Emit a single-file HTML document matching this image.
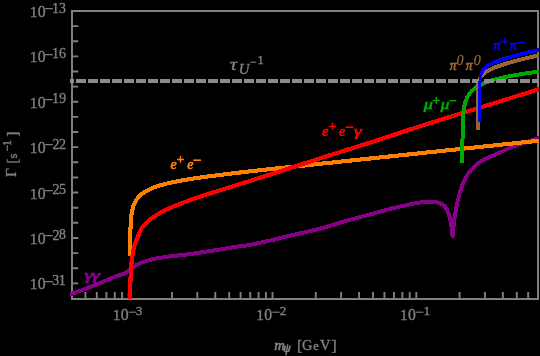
<!DOCTYPE html>
<html><head><meta charset="utf-8"><style>
html,body{margin:0;padding:0;background:#000;width:540px;height:356px;overflow:hidden}
svg{display:block;will-change:transform}
text{font-family:"Liberation Serif",serif}
</style></head><body>
<svg width="540" height="356" viewBox="0 0 540 356">
<rect width="540" height="356" fill="#000"/>
<rect x="72" y="11" width="466" height="288" fill="none" stroke="#808080" stroke-width="2"/>
<path d="M73,26.13 H78.2 M73,41.26 H78.2 M73,56.39 H78.2 M73,71.52 H78.2 M73,86.65 H78.2 M73,101.78 H78.2 M73,116.91 H78.2 M73,132.04 H78.2 M73,147.17 H78.2 M73,162.30 H78.2 M73,177.43 H78.2 M73,192.56 H78.2 M73,207.69 H78.2 M73,222.82 H78.2 M73,237.95 H78.2 M73,253.08 H78.2 M73,268.21 H78.2 M73,283.34 H78.2 M85.41,298 V292 M96.80,298 V292 M106.43,298 V292 M114.76,298 V292 M122.12,298 V292 M128.70,298 V292 M171.99,298 V292 M197.31,298 V292 M215.28,298 V292 M229.21,298 V292 M240.60,298 V292 M250.23,298 V292 M258.56,298 V292 M265.92,298 V292 M272.50,298 V292 M315.79,298 V292 M341.11,298 V292 M359.08,298 V292 M373.01,298 V292 M384.40,298 V292 M394.03,298 V292 M402.36,298 V292 M409.72,298 V292 M416.30,298 V292 M459.59,298 V292 M484.91,298 V292 M502.88,298 V292 M516.81,298 V292 M528.20,298 V292" stroke="#808080" stroke-width="1.9" fill="none"/>
<defs><clipPath id="c"><rect x="70" y="0" width="469" height="300"/></clipPath></defs>
<g clip-path="url(#c)">
<path d="M70.00,294.40 L70.93,294.07 L71.87,293.74 L72.80,293.41 L73.73,293.08 L74.67,292.75 L75.60,292.42 L76.53,292.09 L77.47,291.75 L78.40,291.42 L79.33,291.08 L80.27,290.74 L81.20,290.40 L82.14,290.05 L83.08,289.70 L84.03,289.35 L84.97,289.00 L85.91,288.64 L86.86,288.29 L87.80,287.93 L88.74,287.57 L89.68,287.20 L90.62,286.84 L91.56,286.47 L92.50,286.10 L93.44,285.73 L94.37,285.35 L95.31,284.98 L96.24,284.60 L97.18,284.21 L98.11,283.83 L99.04,283.44 L99.97,283.06 L100.91,282.67 L101.84,282.28 L102.77,281.89 L103.70,281.50 L104.65,281.10 L105.62,280.68 L106.60,280.25 L107.59,279.81 L108.58,279.38 L109.57,278.94 L110.54,278.52 L111.48,278.11 L112.40,277.72 L113.28,277.35 L114.11,277.01 L114.90,276.70 L115.39,276.52 L115.86,276.35 L116.30,276.20 L116.73,276.05 L117.15,275.92 L117.56,275.79 L117.96,275.66 L118.36,275.54 L118.76,275.41 L119.16,275.28 L119.58,275.15 L120.00,275.00 L120.45,274.85 L120.91,274.70 L121.37,274.55 L121.84,274.40 L122.30,274.25 L122.77,274.10 L123.23,273.94 L123.69,273.78 L124.14,273.60 L124.57,273.42 L124.99,273.22 L125.40,273.00 L125.76,272.78 L126.11,272.55 L126.44,272.31 L126.76,272.05 L127.08,271.79 L127.39,271.52 L127.70,271.25 L128.01,270.97 L128.32,270.70 L128.64,270.43 L128.96,270.16 L129.30,269.90 L129.67,269.63 L130.04,269.36 L130.41,269.09 L130.79,268.81 L131.18,268.54 L131.56,268.27 L131.95,268.00 L132.34,267.74 L132.73,267.47 L133.12,267.21 L133.51,266.95 L133.90,266.70 L134.27,266.45 L134.64,266.21 L135.00,265.97 L135.36,265.73 L135.71,265.49 L136.07,265.26 L136.44,265.03 L136.82,264.80 L137.21,264.57 L137.62,264.34 L138.05,264.12 L138.50,263.90 L139.15,263.60 L139.84,263.31 L140.57,263.01 L141.33,262.72 L142.12,262.44 L142.92,262.15 L143.74,261.88 L144.56,261.61 L145.39,261.34 L146.20,261.09 L147.01,260.84 L147.80,260.60 L148.56,260.37 L149.31,260.16 L150.05,259.95 L150.80,259.74 L151.54,259.54 L152.29,259.35 L153.04,259.17 L153.80,258.99 L154.58,258.81 L155.37,258.64 L156.17,258.47 L157.00,258.30 L157.99,258.11 L159.00,257.93 L160.02,257.76 L161.06,257.60 L162.11,257.45 L163.19,257.29 L164.27,257.15 L165.38,257.00 L166.51,256.85 L167.65,256.71 L168.82,256.55 L170.00,256.40 L171.50,256.21 L173.07,256.02 L174.68,255.83 L176.34,255.64 L178.02,255.45 L179.72,255.26 L181.43,255.07 L183.12,254.88 L184.80,254.69 L186.45,254.50 L188.05,254.30 L189.60,254.10 L190.91,253.92 L192.19,253.75 L193.45,253.57 L194.69,253.38 L195.91,253.20 L197.13,253.02 L198.34,252.83 L199.54,252.65 L200.75,252.46 L201.96,252.27 L203.17,252.09 L204.40,251.90 L205.64,251.71 L206.88,251.52 L208.12,251.34 L209.37,251.15 L210.61,250.96 L211.85,250.77 L213.09,250.58 L214.34,250.39 L215.58,250.19 L216.82,250.00 L218.06,249.80 L219.30,249.60 L220.53,249.40 L221.76,249.19 L222.98,248.98 L224.20,248.77 L225.42,248.56 L226.64,248.35 L227.86,248.13 L229.09,247.92 L230.33,247.71 L231.57,247.50 L232.83,247.30 L234.10,247.10 L235.49,246.89 L236.91,246.69 L238.35,246.50 L239.81,246.31 L241.29,246.12 L242.76,245.93 L244.22,245.74 L245.66,245.54 L247.08,245.35 L248.47,245.14 L249.81,244.92 L251.10,244.70 L252.11,244.51 L253.09,244.31 L254.05,244.11 L254.98,243.90 L255.90,243.69 L256.80,243.47 L257.70,243.26 L258.59,243.04 L259.48,242.83 L260.38,242.62 L261.28,242.41 L262.20,242.20 L263.12,242.00 L264.05,241.80 L264.98,241.60 L265.90,241.41 L266.83,241.22 L267.75,241.02 L268.68,240.83 L269.60,240.63 L270.53,240.43 L271.45,240.23 L272.38,240.02 L273.30,239.80 L274.23,239.57 L275.15,239.34 L276.08,239.10 L277.00,238.85 L277.92,238.61 L278.85,238.36 L279.77,238.10 L280.69,237.86 L281.62,237.61 L282.54,237.37 L283.47,237.13 L284.40,236.90 L285.32,236.68 L286.24,236.47 L287.15,236.26 L288.06,236.06 L288.97,235.86 L289.88,235.66 L290.80,235.46 L291.73,235.26 L292.67,235.05 L293.63,234.84 L294.60,234.62 L295.60,234.40 L296.81,234.12 L298.07,233.84 L299.36,233.54 L300.68,233.24 L302.01,232.93 L303.36,232.62 L304.70,232.30 L306.03,231.99 L307.35,231.69 L308.64,231.38 L309.89,231.09 L311.10,230.80 L312.09,230.57 L313.06,230.34 L314.01,230.12 L314.94,229.90 L315.86,229.68 L316.77,229.47 L317.67,229.25 L318.57,229.03 L319.47,228.81 L320.38,228.58 L321.28,228.34 L322.20,228.10 L323.13,227.85 L324.05,227.58 L324.98,227.32 L325.91,227.05 L326.83,226.77 L327.76,226.49 L328.68,226.21 L329.60,225.93 L330.53,225.65 L331.45,225.36 L332.38,225.08 L333.30,224.80 L334.23,224.52 L335.15,224.24 L336.07,223.95 L337.00,223.66 L337.92,223.37 L338.84,223.09 L339.77,222.80 L340.69,222.51 L341.62,222.23 L342.54,221.95 L343.47,221.67 L344.40,221.40 L345.32,221.13 L346.24,220.87 L347.15,220.61 L348.06,220.36 L348.97,220.11 L349.88,219.86 L350.80,219.61 L351.73,219.35 L352.67,219.10 L353.63,218.84 L354.60,218.57 L355.60,218.30 L356.81,217.97 L358.07,217.63 L359.36,217.28 L360.68,216.92 L362.01,216.56 L363.35,216.19 L364.70,215.83 L366.03,215.47 L367.35,215.11 L368.64,214.77 L369.89,214.43 L371.10,214.10 L372.09,213.83 L373.06,213.57 L374.00,213.31 L374.94,213.06 L375.86,212.81 L376.77,212.57 L377.67,212.32 L378.57,212.08 L379.47,211.84 L380.37,211.59 L381.28,211.35 L382.20,211.10 L383.12,210.85 L384.05,210.59 L384.97,210.34 L385.90,210.08 L386.82,209.83 L387.75,209.57 L388.67,209.32 L389.60,209.06 L390.52,208.82 L391.45,208.57 L392.37,208.33 L393.30,208.10 L394.22,207.87 L395.15,207.65 L396.07,207.44 L396.99,207.23 L397.92,207.02 L398.84,206.81 L399.77,206.61 L400.69,206.41 L401.62,206.21 L402.55,206.00 L403.47,205.80 L404.40,205.60 L405.34,205.39 L406.28,205.18 L407.23,204.97 L408.19,204.75 L409.14,204.54 L410.09,204.33 L411.04,204.12 L411.98,203.92 L412.91,203.72 L413.82,203.54 L414.72,203.36 L415.60,203.20 L416.34,203.07 L417.08,202.94 L417.80,202.83 L418.51,202.71 L419.22,202.60 L419.92,202.50 L420.61,202.40 L421.30,202.31 L421.98,202.23 L422.66,202.14 L423.33,202.07 L424.00,202.00 L424.59,201.94 L425.18,201.88 L425.75,201.81 L426.31,201.75 L426.88,201.70 L427.43,201.65 L427.99,201.61 L428.56,201.58 L429.13,201.56 L429.71,201.56 L430.30,201.57 L430.90,201.60 L431.63,201.65 L432.38,201.71 L433.17,201.79 L433.96,201.89 L434.77,201.99 L435.57,202.12 L436.37,202.27 L437.16,202.43 L437.92,202.61 L438.65,202.82 L439.35,203.05 L440.00,203.30 L440.51,203.52 L440.99,203.75 L441.47,204.00 L441.92,204.25 L442.37,204.52 L442.79,204.81 L443.21,205.11 L443.61,205.43 L444.00,205.76 L444.38,206.12 L444.74,206.50 L445.10,206.90 L445.50,207.40 L445.87,207.93 L446.23,208.50 L446.56,209.09 L446.88,209.71 L447.19,210.35 L447.48,211.01 L447.76,211.69 L448.03,212.38 L448.29,213.08 L448.55,213.79 L448.80,214.50 L449.09,215.35 L449.36,216.24 L449.61,217.15 L449.86,218.08 L450.09,219.03 L450.30,220.00 L450.51,220.97 L450.70,221.95 L450.89,222.93 L451.07,223.90 L451.24,224.86 L451.40,225.80 L451.54,226.70 L451.67,227.59 L451.79,228.49 L451.89,229.38 L451.99,230.27 L452.08,231.16 L452.16,232.05 L452.25,232.94 L452.33,233.83 L452.41,234.72 L452.50,235.61 L452.60,236.50 L452.73,235.16 L452.86,233.82 L452.98,232.47 L453.10,231.11 L453.23,229.76 L453.35,228.41 L453.48,227.07 L453.61,225.73 L453.74,224.40 L453.89,223.08 L454.04,221.78 L454.20,220.50 L454.36,219.32 L454.52,218.15 L454.69,216.97 L454.87,215.80 L455.05,214.64 L455.24,213.49 L455.43,212.36 L455.62,211.24 L455.81,210.14 L456.01,209.07 L456.20,208.02 L456.40,207.00 L456.56,206.20 L456.71,205.43 L456.87,204.69 L457.02,203.96 L457.18,203.25 L457.34,202.54 L457.50,201.84 L457.66,201.13 L457.84,200.42 L458.02,199.70 L458.20,198.96 L458.40,198.20 L458.63,197.31 L458.87,196.40 L459.12,195.47 L459.37,194.53 L459.63,193.58 L459.90,192.63 L460.17,191.67 L460.46,190.72 L460.76,189.77 L461.06,188.83 L461.37,187.91 L461.70,187.00 L462.02,186.13 L462.35,185.26 L462.68,184.39 L463.02,183.53 L463.37,182.68 L463.73,181.83 L464.10,180.98 L464.49,180.15 L464.89,179.32 L465.31,178.51 L465.74,177.70 L466.20,176.90 L466.68,176.10 L467.19,175.30 L467.72,174.50 L468.27,173.71 L468.83,172.93 L469.41,172.16 L469.99,171.40 L470.59,170.66 L471.19,169.93 L471.79,169.23 L472.40,168.55 L473.00,167.90 L473.53,167.35 L474.06,166.81 L474.60,166.29 L475.14,165.79 L475.68,165.30 L476.23,164.83 L476.78,164.37 L477.35,163.92 L477.92,163.48 L478.50,163.04 L479.09,162.62 L479.70,162.20 L480.34,161.78 L480.98,161.38 L481.64,161.00 L482.30,160.62 L482.98,160.26 L483.66,159.91 L484.35,159.56 L485.06,159.22 L485.78,158.87 L486.50,158.52 L487.25,158.17 L488.00,157.80 L488.91,157.36 L489.85,156.93 L490.81,156.49 L491.79,156.06 L492.79,155.62 L493.80,155.18 L494.82,154.74 L495.84,154.30 L496.86,153.85 L497.88,153.41 L498.90,152.96 L499.90,152.50 L500.92,152.03 L501.93,151.54 L502.94,151.04 L503.95,150.54 L504.96,150.03 L505.97,149.53 L506.99,149.03 L508.01,148.53 L509.04,148.05 L510.08,147.58 L511.13,147.13 L512.20,146.70 L513.32,146.28 L514.46,145.88 L515.62,145.49 L516.78,145.13 L517.95,144.77 L519.13,144.42 L520.32,144.08 L521.50,143.74 L522.68,143.39 L523.86,143.04 L525.04,142.68 L526.20,142.30 L527.36,141.91 L528.51,141.52 L529.66,141.13 L530.81,140.73 L531.96,140.33 L533.11,139.93 L534.26,139.52 L535.41,139.12 L536.55,138.71 L537.70,138.30 L538.85,137.90 L540.00,137.50" fill="none" stroke="#880088" stroke-width="4.0" stroke-linejoin="round" stroke-linecap="butt" shape-rendering="crispEdges"/>
<path d="M130.18,256.10 L130.18,255.90 L130.18,255.45 L130.18,255.00 L130.18,254.55 L130.18,254.10 L130.18,253.65 L130.18,253.20 L130.18,252.75 L130.19,252.31 L130.19,251.86 L130.19,251.41 L130.19,250.96 L130.19,250.51 L130.19,250.06 L130.20,249.61 L130.20,249.16 L130.20,248.71 L130.20,248.26 L130.20,247.82 L130.21,247.37 L130.21,246.92 L130.21,246.47 L130.21,246.02 L130.22,245.57 L130.22,245.12 L130.22,244.67 L130.22,244.22 L130.23,243.78 L130.23,243.33 L130.23,242.88 L130.24,242.43 L130.24,241.98 L130.25,241.53 L130.25,241.08 L130.25,240.64 L130.26,240.19 L130.26,239.74 L130.27,239.29 L130.27,238.84 L130.28,238.39 L130.28,237.94 L130.29,237.50 L130.30,237.05 L130.30,236.60 L130.31,236.15 L130.32,235.70 L130.32,235.25 L130.33,234.81 L130.34,234.36 L130.35,233.91 L130.36,233.46 L130.37,233.01 L130.38,232.57 L130.39,232.12 L130.40,231.67 L130.41,231.22 L130.42,230.78 L130.43,230.33 L130.45,229.88 L130.46,229.43 L130.47,228.99 L130.49,228.54 L130.50,228.09 L130.52,227.64 L130.54,227.20 L130.56,226.75 L130.57,226.30 L130.59,225.86 L130.61,225.41 L130.64,224.96 L130.66,224.52 L130.68,224.07 L130.71,223.63 L130.73,223.18 L130.76,222.73 L130.79,222.29 L130.81,221.84 L130.85,221.40 L130.88,220.95 L130.91,220.51 L130.95,220.06 L130.98,219.62 L131.02,219.18 L131.06,218.73 L131.10,218.29 L131.15,217.84 L131.19,217.40 L131.24,216.96 L131.29,216.52 L131.34,216.07 L131.40,215.63 L131.45,215.19 L131.51,214.75 L131.58,214.31 L131.64,213.87 L131.71,213.43 L131.78,212.99 L131.86,212.55 L131.93,212.11 L132.02,211.67 L132.10,211.23 L132.19,210.79 L132.28,210.36 L132.38,209.92 L132.48,209.48 L132.59,209.05 L132.70,208.61 L132.82,208.18 L132.94,207.75 L133.07,207.31 L133.20,206.88 L133.34,206.45 L133.48,206.02 L133.63,205.59 L133.79,205.16 L133.95,204.73 L134.12,204.31 L134.30,203.88 L134.49,203.46 L134.69,203.03 L134.89,202.61 L135.10,202.19 L135.32,201.77 L135.55,201.35 L135.79,200.93 L136.04,200.51 L136.31,200.10 L136.58,199.68 L136.86,199.27 L137.16,198.86 L137.47,198.45 L137.79,198.04 L138.12,197.63 L138.47,197.23 L138.83,196.82 L139.21,196.42 L139.60,196.02 L140.00,195.62 L140.43,195.23 L140.87,194.83 L141.33,194.44 L141.80,194.05 L142.29,193.66 L142.81,193.28 L143.34,192.89 L143.89,192.51 L144.46,192.13 L145.05,191.76 L145.67,191.38 L146.31,191.01 L146.97,190.64 L147.65,190.28 L148.36,189.91 L149.09,189.55 L149.84,189.19 L150.63,188.84 L151.43,188.48 L152.27,188.13 L153.13,187.79 L154.02,187.44 L154.94,187.10 L155.88,186.76 L156.86,186.42 L157.86,186.09 L158.90,185.76 L159.96,185.43 L161.06,185.10 L162.18,184.78 L163.34,184.46 L164.53,184.14 L165.75,183.83 L167.00,183.52 L168.28,183.21 L169.60,182.90 L170.95,182.59 L172.33,182.29 L173.74,181.99 L175.19,181.69 L176.66,181.40 L178.17,181.11 L179.72,180.81 L181.29,180.52 L182.90,180.24 L184.53,179.95 L186.20,179.67 L187.90,179.38 L189.63,179.10 L191.40,178.82 L193.19,178.55 L195.01,178.27 L196.86,177.99 L198.74,177.72 L200.65,177.44 L202.59,177.17 L204.55,176.90 L206.55,176.63 L208.57,176.36 L210.61,176.08 L212.69,175.81 L214.78,175.54 L216.91,175.28 L219.05,175.01 L221.22,174.74 L223.41,174.47 L225.63,174.20 L227.87,173.93 L230.12,173.66 L232.40,173.39 L234.70,173.12 L237.02,172.85 L239.36,172.58 L241.72,172.31 L244.09,172.04 L246.49,171.77 L248.90,171.49 L251.32,171.22 L253.76,170.95 L256.22,170.68 L258.69,170.40 L261.18,170.13 L263.68,169.85 L266.19,169.58 L268.72,169.30 L271.26,169.02 L273.81,168.75 L276.37,168.47 L278.94,168.19 L281.53,167.91 L284.12,167.63 L286.73,167.35 L289.34,167.07 L291.97,166.79 L294.60,166.51 L297.24,166.22 L299.89,165.94 L302.55,165.66 L305.21,165.37 L307.89,165.09 L310.57,164.80 L313.25,164.52 L315.95,164.23 L318.64,163.94 L321.35,163.66 L324.06,163.37 L326.78,163.08 L329.50,162.79 L332.22,162.50 L334.96,162.21 L337.69,161.92 L340.43,161.63 L343.18,161.34 L345.93,161.05 L348.68,160.76 L351.44,160.47 L354.20,160.18 L356.96,159.89 L359.73,159.59 L362.50,159.30 L365.27,159.01 L368.05,158.72 L370.83,158.42 L373.61,158.13 L376.39,157.83 L379.18,157.54 L381.97,157.25 L384.76,156.95 L387.55,156.66 L390.35,156.36 L393.15,156.07 L395.95,155.77 L398.75,155.48 L401.55,155.18 L404.36,154.88 L407.16,154.59 L409.97,154.29 L412.78,154.00 L415.59,153.70 L418.40,153.40 L421.21,153.11 L424.03,152.81 L426.84,152.51 L429.66,152.22 L432.48,151.92 L435.29,151.62 L438.11,151.32 L440.93,151.03 L443.76,150.73 L446.58,150.43 L449.40,150.13 L452.22,149.84 L455.05,149.54 L457.87,149.24 L460.70,148.94 L463.53,148.64 L466.35,148.35 L469.18,148.05 L472.01,147.75 L474.84,147.45 L477.67,147.15 L480.50,146.85 L483.33,146.56 L486.16,146.26 L488.99,145.96 L491.82,145.66 L494.65,145.36 L497.48,145.06 L500.32,144.77 L503.15,144.47 L505.98,144.17 L508.81,143.87 L511.65,143.57 L514.48,143.27 L517.32,142.97 L520.15,142.67 L522.99,142.37 L525.82,142.08 L528.66,141.78 L531.49,141.48 L534.33,141.18 L537.16,140.88 L540.00,140.58" fill="none" stroke="#ff8000" stroke-width="4.1" stroke-linejoin="round" stroke-linecap="butt" shape-rendering="crispEdges"/>
<path d="M129.90,298.60 L129.94,297.13 L129.99,295.65 L130.03,294.17 L130.07,292.69 L130.11,291.21 L130.16,289.73 L130.20,288.25 L130.24,286.78 L130.29,285.32 L130.34,283.87 L130.39,282.43 L130.45,281.00 L130.51,279.66 L130.56,278.29 L130.62,276.92 L130.68,275.55 L130.74,274.19 L130.80,272.84 L130.87,271.51 L130.94,270.22 L131.01,268.96 L131.08,267.75 L131.17,266.59 L131.25,265.50 L131.31,264.78 L131.37,264.11 L131.43,263.46 L131.49,262.85 L131.55,262.25 L131.61,261.66 L131.68,261.08 L131.75,260.49 L131.83,259.90 L131.91,259.29 L132.00,258.66 L132.10,258.00 L132.22,257.17 L132.35,256.32 L132.49,255.44 L132.63,254.55 L132.78,253.65 L132.94,252.73 L133.10,251.82 L133.28,250.90 L133.47,249.98 L133.67,249.08 L133.88,248.18 L134.10,247.30 L134.34,246.44 L134.58,245.58 L134.84,244.73 L135.12,243.88 L135.40,243.04 L135.69,242.20 L135.99,241.36 L136.30,240.52 L136.61,239.69 L136.94,238.86 L137.27,238.03 L137.60,237.20 L137.93,236.36 L138.26,235.53 L138.59,234.68 L138.92,233.84 L139.26,233.00 L139.61,232.17 L139.97,231.34 L140.36,230.52 L140.77,229.72 L141.21,228.93 L141.69,228.15 L142.20,227.40 L142.79,226.62 L143.42,225.85 L144.09,225.10 L144.80,224.36 L145.53,223.64 L146.28,222.93 L147.06,222.23 L147.85,221.55 L148.65,220.87 L149.47,220.20 L150.28,219.55 L151.10,218.90 L151.96,218.24 L152.83,217.58 L153.73,216.94 L154.64,216.30 L155.57,215.68 L156.50,215.07 L157.44,214.47 L158.39,213.89 L159.35,213.32 L160.30,212.76 L161.25,212.22 L162.20,211.70 L163.11,211.22 L164.02,210.75 L164.94,210.31 L165.86,209.88 L166.79,209.46 L167.72,209.05 L168.65,208.66 L169.58,208.26 L170.51,207.87 L171.44,207.48 L172.37,207.09 L173.30,206.70 L174.22,206.31 L175.12,205.93 L176.02,205.55 L176.92,205.17 L177.82,204.80 L178.72,204.43 L179.63,204.06 L180.55,203.70 L181.48,203.33 L182.43,202.95 L183.40,202.58 L184.40,202.20 L185.57,201.76 L186.72,201.33 L187.86,200.91 L189.01,200.49 L190.18,200.07 L191.38,199.64 L192.63,199.20 L193.94,198.75 L195.31,198.28 L196.77,197.78 L198.33,197.26 L200.00,196.70 L203.63,195.50 L207.74,194.18 L212.25,192.75 L217.11,191.22 L222.23,189.62 L227.56,187.96 L233.03,186.26 L238.56,184.54 L244.09,182.81 L249.55,181.10 L254.88,179.43 L260.00,177.80 L265.00,176.20 L270.00,174.59 L275.00,172.97 L280.00,171.35 L285.00,169.73 L290.00,168.11 L295.00,166.48 L300.00,164.86 L305.00,163.23 L310.00,161.62 L315.00,160.00 L320.00,158.40 L325.04,156.79 L330.14,155.17 L335.28,153.55 L340.45,151.92 L345.61,150.29 L350.76,148.67 L355.86,147.06 L360.90,145.48 L365.86,143.91 L370.71,142.37 L375.43,140.87 L380.00,139.40 L383.60,138.24 L387.06,137.11 L390.41,136.01 L393.68,134.93 L396.90,133.86 L400.08,132.81 L403.26,131.76 L406.46,130.70 L409.71,129.63 L413.03,128.55 L416.45,127.44 L420.00,126.30 L424.33,124.92 L428.77,123.52 L433.29,122.10 L437.89,120.67 L442.55,119.22 L447.27,117.76 L452.04,116.28 L456.85,114.80 L461.67,113.31 L466.52,111.81 L471.36,110.31 L476.20,108.80 L481.38,107.19 L486.60,105.56 L491.87,103.92 L497.17,102.26 L502.50,100.60 L507.85,98.93 L513.21,97.26 L518.58,95.58 L523.96,93.91 L529.32,92.23 L534.67,90.56 L540.00,88.90" fill="none" stroke="#ff0000" stroke-width="4.2" stroke-linejoin="round" stroke-linecap="butt" shape-rendering="crispEdges"/>
<path d="M462.43,163.00 L462.43,162.96 L462.43,162.60 L462.43,162.25 L462.43,161.89 L462.44,161.54 L462.44,161.18 L462.44,160.83 L462.44,160.47 L462.44,160.11 L462.44,159.76 L462.44,159.40 L462.44,159.05 L462.44,158.69 L462.44,158.33 L462.44,157.98 L462.44,157.62 L462.44,157.27 L462.44,156.91 L462.44,156.56 L462.44,156.20 L462.44,155.84 L462.44,155.49 L462.44,155.13 L462.44,154.78 L462.44,154.42 L462.44,154.06 L462.44,153.71 L462.44,153.35 L462.44,153.00 L462.45,152.64 L462.45,152.29 L462.45,151.93 L462.45,151.57 L462.45,151.22 L462.45,150.86 L462.45,150.51 L462.45,150.15 L462.45,149.79 L462.45,149.44 L462.45,149.08 L462.45,148.73 L462.45,148.37 L462.46,148.02 L462.46,147.66 L462.46,147.30 L462.46,146.95 L462.46,146.59 L462.46,146.24 L462.46,145.88 L462.46,145.53 L462.46,145.17 L462.47,144.81 L462.47,144.46 L462.47,144.10 L462.47,143.75 L462.47,143.39 L462.47,143.04 L462.48,142.68 L462.48,142.32 L462.48,141.97 L462.48,141.61 L462.48,141.26 L462.48,140.90 L462.49,140.55 L462.49,140.19 L462.49,139.84 L462.49,139.48 L462.50,139.12 L462.50,138.77 L462.50,138.41 L462.50,138.06 L462.51,137.70 L462.51,137.35 L462.51,136.99 L462.52,136.64 L462.52,136.28 L462.52,135.92 L462.53,135.57 L462.53,135.21 L462.53,134.86 L462.54,134.50 L462.54,134.15 L462.54,133.79 L462.55,133.44 L462.55,133.08 L462.56,132.73 L462.56,132.37 L462.57,132.02 L462.57,131.66 L462.58,131.31 L462.58,130.95 L462.59,130.60 L462.60,130.24 L462.60,129.89 L462.61,129.53 L462.61,129.18 L462.62,128.82 L462.63,128.47 L462.64,128.11 L462.64,127.76 L462.65,127.40 L462.66,127.05 L462.67,126.69 L462.68,126.34 L462.69,125.98 L462.70,125.63 L462.71,125.27 L462.72,124.92 L462.73,124.56 L462.74,124.21 L462.75,123.85 L462.76,123.50 L462.77,123.15 L462.78,122.79 L462.80,122.44 L462.81,122.08 L462.83,121.73 L462.84,121.38 L462.85,121.02 L462.87,120.67 L462.89,120.31 L462.90,119.96 L462.92,119.61 L462.94,119.25 L462.96,118.90 L462.98,118.55 L463.00,118.19 L463.02,117.84 L463.04,117.49 L463.06,117.13 L463.08,116.78 L463.11,116.43 L463.13,116.08 L463.16,115.72 L463.19,115.37 L463.21,115.02 L463.24,114.67 L463.27,114.31 L463.30,113.96 L463.34,113.61 L463.37,113.26 L463.40,112.91 L463.44,112.56 L463.48,112.21 L463.51,111.85 L463.55,111.50 L463.59,111.15 L463.64,110.80 L463.68,110.45 L463.73,110.10 L463.77,109.75 L463.82,109.40 L463.87,109.05 L463.93,108.71 L463.98,108.36 L464.04,108.01 L464.09,107.66 L464.15,107.31 L464.22,106.96 L464.28,106.62 L464.35,106.27 L464.42,105.92 L464.49,105.58 L464.57,105.23 L464.64,104.88 L464.72,104.54 L464.81,104.19 L464.89,103.85 L464.98,103.51 L465.07,103.16 L465.17,102.82 L465.26,102.47 L465.37,102.13 L465.47,101.79 L465.58,101.45 L465.69,101.11 L465.81,100.77 L465.93,100.43 L466.06,100.09 L466.19,99.75 L466.32,99.41 L466.46,99.07 L466.60,98.73 L466.75,98.40 L466.90,98.06 L467.06,97.72 L467.23,97.39 L467.40,97.06 L467.57,96.72 L467.75,96.39 L467.94,96.06 L468.13,95.73 L468.33,95.40 L468.54,95.07 L468.75,94.74 L468.98,94.41 L469.20,94.08 L469.44,93.76 L469.68,93.43 L469.93,93.11 L470.19,92.79 L470.46,92.46 L470.74,92.14 L471.02,91.82 L471.32,91.51 L471.62,91.19 L471.93,90.87 L472.26,90.56 L472.59,90.24 L472.94,89.93 L473.29,89.62 L473.66,89.31 L474.03,89.00 L474.42,88.69 L474.82,88.38 L475.23,88.08 L475.66,87.78 L476.09,87.47 L476.54,87.17 L477.00,86.87 L477.48,86.58 L477.97,86.28 L478.47,85.99 L478.99,85.69 L479.52,85.40 L480.07,85.11 L480.63,84.82 L481.21,84.54 L481.81,84.25 L482.42,83.97 L483.04,83.69 L483.68,83.41 L484.34,83.13 L485.02,82.85 L485.71,82.58 L486.42,82.31 L487.15,82.04 L487.89,81.77 L488.66,81.50 L489.44,81.23 L490.24,80.97 L491.06,80.71 L491.90,80.45 L492.76,80.19 L493.63,79.93 L494.53,79.68 L495.44,79.42 L496.38,79.17 L497.33,78.92 L498.31,78.67 L499.30,78.42 L500.32,78.18 L501.35,77.93 L502.41,77.69 L503.49,77.45 L504.58,77.21 L505.70,76.97 L506.83,76.74 L507.99,76.50 L509.17,76.27 L510.37,76.04 L511.58,75.80 L512.82,75.57 L514.08,75.35 L515.36,75.12 L516.65,74.89 L517.97,74.67 L519.31,74.44 L520.67,74.22 L522.04,74.00 L523.44,73.77 L524.85,73.55 L526.29,73.33 L527.74,73.12 L529.21,72.90 L530.70,72.68 L532.20,72.46 L533.73,72.24 L535.27,72.03 L536.83,71.81 L538.41,71.60 L540.00,71.38" fill="none" stroke="#00a800" stroke-width="4.0" stroke-linejoin="round" stroke-linecap="butt" shape-rendering="crispEdges"/>
<path d="M477.69,129.80 L477.69,129.80 L477.69,129.64 L477.69,129.48 L477.69,129.32 L477.69,129.16 L477.69,129.00 L477.69,128.84 L477.69,128.68 L477.69,128.51 L477.69,128.35 L477.69,128.19 L477.69,128.03 L477.69,127.87 L477.69,127.71 L477.69,127.55 L477.69,127.39 L477.69,127.23 L477.69,127.07 L477.69,126.91 L477.69,126.75 L477.69,126.59 L477.69,126.43 L477.69,126.27 L477.69,126.11 L477.69,125.95 L477.69,125.79 L477.69,125.63 L477.69,125.47 L477.69,125.31 L477.69,125.15 L477.69,124.98 L477.69,124.82 L477.69,124.66 L477.69,124.50 L477.69,124.34 L477.69,124.18 L477.69,124.02 L477.69,123.86 L477.69,123.70 L477.69,123.54 L477.69,123.38 L477.69,123.22 L477.69,123.06 L477.69,122.90 L477.69,122.74 L477.69,122.58 L477.69,122.42 L477.69,122.26 L477.69,122.10 L477.69,121.94 L477.69,121.78 L477.69,121.62 L477.69,121.45 L477.69,121.29 L477.69,121.13 L477.69,120.97 L477.69,120.81 L477.69,120.65 L477.69,120.49 L477.69,120.33 L477.69,120.17 L477.69,120.01 L477.69,119.85 L477.69,119.69 L477.69,119.53 L477.69,119.37 L477.69,119.21 L477.69,119.05 L477.69,118.89 L477.69,118.73 L477.69,118.57 L477.69,118.41 L477.69,118.25 L477.69,118.09 L477.69,117.93 L477.69,117.76 L477.69,117.60 L477.69,117.44 L477.69,117.28 L477.69,117.12 L477.69,116.96 L477.69,116.80 L477.69,116.64 L477.69,116.48 L477.69,116.32 L477.69,116.16 L477.69,116.00 L477.69,115.84 L477.69,115.68 L477.69,115.52 L477.69,115.36 L477.69,115.20 L477.69,115.04 L477.69,114.88 L477.69,114.72 L477.69,114.56 L477.69,114.40 L477.69,114.23 L477.69,114.07 L477.69,113.91 L477.69,113.75 L477.69,113.59 L477.69,113.43 L477.69,113.27 L477.69,113.11 L477.69,112.95 L477.69,112.79 L477.69,112.63 L477.69,112.47 L477.69,112.31 L477.69,112.15 L477.69,111.99 L477.69,111.83 L477.69,111.67 L477.69,111.51 L477.69,111.35 L477.69,111.19 L477.69,111.03 L477.69,110.87 L477.69,110.70 L477.69,110.54 L477.69,110.38 L477.69,110.22 L477.69,110.06 L477.69,109.90 L477.69,109.74 L477.69,109.58 L477.69,109.42 L477.69,109.26 L477.69,109.10 L477.69,108.94 L477.69,108.78 L477.69,108.62 L477.69,108.46 L477.69,108.30 L477.69,108.14 L477.69,107.98 L477.69,107.82 L477.69,107.66 L477.69,107.50 L477.69,107.33 L477.69,107.17 L477.69,107.01 L477.69,106.85 L477.70,106.69 L477.70,106.53 L477.70,106.37 L477.70,106.21 L477.70,106.05 L477.70,105.89 L477.70,105.73 L477.70,105.57 L477.70,105.41 L477.70,105.25 L477.70,105.09 L477.70,104.93 L477.70,104.77 L477.70,104.61 L477.70,104.45 L477.70,104.29 L477.70,104.13 L477.70,103.96 L477.70,103.80 L477.70,103.64 L477.70,103.48 L477.70,103.32 L477.70,103.16 L477.70,103.00 L477.70,102.84 L477.70,102.68 L477.70,102.52 L477.70,102.36 L477.70,102.20 L477.70,102.04 L477.70,101.88 L477.71,101.72 L477.71,101.56 L477.71,101.40 L477.71,101.24 L477.71,101.08 L477.71,100.92 L477.71,100.76 L477.71,100.59 L477.71,100.43 L477.71,100.27 L477.71,100.11 L477.71,99.95 L477.71,99.79 L477.71,99.63 L477.71,99.47 L477.72,99.31 L477.72,99.15 L477.72,98.99 L477.72,98.83 L477.72,98.67 L477.72,98.51 L477.72,98.35 L477.72,98.19 L477.72,98.03 L477.73,97.87 L477.73,97.70 L477.73,97.54 L477.73,97.38 L477.73,97.22 L477.73,97.06 L477.73,96.90 L477.74,96.74 L477.74,96.58 L477.74,96.42 L477.74,96.26 L477.74,96.10 L477.74,95.94 L477.75,95.78 L477.75,95.62 L477.75,95.46 L477.75,95.30 L477.75,95.13 L477.76,94.97 L477.76,94.81 L477.76,94.65 L477.76,94.49 L477.77,94.33 L477.77,94.17 L477.77,94.01 L477.78,93.85 L477.78,93.69 L477.78,93.53 L477.78,93.37 L477.79,93.21 L477.79,93.05 L477.80,92.88 L477.80,92.72 L477.80,92.56 L477.81,92.40 L477.81,92.24 L477.82,92.08 L477.82,91.92 L477.83,91.76 L477.83,91.60 L477.84,91.44 L477.84,91.28 L477.85,91.11 L477.85,90.95 L477.86,90.79 L477.86,90.63 L477.87,90.47 L477.88,90.31 L477.88,90.15 L477.89,89.99 L477.90,89.83 L477.90,89.66 L477.91,89.50 L477.92,89.34 L477.93,89.18 L477.94,89.02 L477.95,88.86 L477.96,88.70 L477.96,88.54 L477.97,88.37 L477.98,88.21 L478.00,88.05 L478.01,87.89 L478.02,87.73 L478.03,87.57 L478.04,87.40 L478.05,87.24 L478.07,87.08 L478.08,86.92 L478.10,86.76 L478.11,86.60 L478.12,86.43 L478.14,86.27 L478.16,86.11 L478.17,85.95 L478.19,85.79 L478.21,85.62 L478.23,85.46 L478.25,85.30 L478.27,85.14 L478.29,84.97 L478.31,84.81 L478.33,84.65 L478.35,84.49 L478.38,84.32 L478.40,84.16 L478.43,84.00 L478.46,83.83 L478.48,83.67 L478.51,83.51 L478.54,83.34 L478.57,83.18 L478.60,83.02 L478.64,82.85 L478.67,82.69 L478.70,82.53 L478.74,82.36 L478.78,82.20 L478.82,82.03 L478.86,81.87 L478.90,81.70 L478.94,81.54 L478.99,81.38 L479.03,81.21 L479.08,81.04 L479.13,80.88 L479.18,80.71 L479.24,80.55 L479.29,80.38 L479.35,80.22 L479.41,80.05 L479.47,79.88 L479.53,79.72 L479.60,79.55 L479.67,79.38 L479.74,79.22 L479.81,79.05 L479.89,78.88 L479.96,78.71 L480.04,78.54 L480.13,78.37 L480.21,78.21 L480.30,78.04 L480.40,77.87 L480.49,77.70 L480.59,77.53 L480.69,77.36 L480.80,77.19 L480.91,77.01 L481.02,76.84 L481.14,76.67 L481.26,76.50 L481.38,76.32 L481.51,76.15 L481.65,75.98 L481.79,75.80 L481.93,75.63 L482.08,75.45 L482.23,75.28 L482.39,75.10 L482.55,74.93 L482.72,74.75 L482.89,74.57 L483.07,74.39 L483.26,74.21 L483.45,74.03 L483.65,73.85 L483.86,73.67 L484.07,73.49 L484.29,73.31 L484.51,73.12 L484.75,72.94 L484.99,72.76 L485.23,72.57 L485.49,72.39 L485.75,72.20 L486.03,72.01 L486.31,71.82 L486.60,71.63 L486.90,71.44 L487.21,71.25 L487.52,71.06 L487.85,70.86 L488.19,70.67 L488.54,70.47 L488.90,70.28 L489.27,70.08 L489.65,69.88 L490.04,69.68 L490.44,69.48 L490.86,69.27 L491.29,69.07 L491.73,68.87 L492.18,68.66 L492.64,68.45 L493.12,68.24 L493.61,68.03 L494.12,67.82 L494.64,67.60 L495.17,67.39 L495.72,67.17 L496.29,66.95 L496.86,66.73 L497.46,66.51 L498.07,66.29 L498.69,66.06 L499.33,65.83 L499.99,65.60 L500.66,65.37 L501.35,65.14 L502.06,64.91 L502.79,64.67 L503.53,64.43 L504.29,64.19 L505.07,63.95 L505.86,63.70 L506.68,63.45 L507.51,63.21 L508.36,62.95 L509.23,62.70 L510.12,62.45 L511.02,62.19 L511.95,61.93 L512.89,61.66 L513.86,61.40 L514.84,61.13 L515.85,60.86 L516.87,60.59 L517.91,60.32 L518.97,60.04 L520.05,59.76 L521.15,59.48 L522.28,59.19 L523.42,58.91 L524.58,58.62 L525.76,58.33 L526.95,58.03 L528.17,57.74 L529.41,57.44 L530.67,57.13 L531.94,56.83 L533.24,56.52 L534.55,56.21 L535.89,55.90 L537.24,55.59 L538.61,55.27 L540.00,54.95" fill="none" stroke="#996633" stroke-width="4.0" stroke-linejoin="round" stroke-linecap="butt" shape-rendering="crispEdges"/>
</g>
<line x1="70" y1="81" x2="538.5" y2="81" stroke="#8c8c8c" stroke-width="3.9" stroke-dasharray="9.9 2.1" stroke-dashoffset="5.9" shape-rendering="crispEdges"/>
<g clip-path="url(#c)">
<path d="M479.78,122.20 L479.78,122.17 L479.78,122.02 L479.78,121.87 L479.78,121.72 L479.78,121.58 L479.78,121.43 L479.78,121.28 L479.78,121.13 L479.78,120.98 L479.78,120.83 L479.78,120.68 L479.78,120.53 L479.78,120.38 L479.78,120.23 L479.78,120.08 L479.78,119.93 L479.78,119.78 L479.78,119.63 L479.78,119.48 L479.78,119.34 L479.78,119.19 L479.78,119.04 L479.78,118.89 L479.78,118.74 L479.78,118.59 L479.78,118.44 L479.78,118.29 L479.78,118.14 L479.78,117.99 L479.78,117.84 L479.78,117.69 L479.78,117.54 L479.78,117.39 L479.78,117.25 L479.78,117.10 L479.78,116.95 L479.78,116.80 L479.78,116.65 L479.78,116.50 L479.78,116.35 L479.78,116.20 L479.78,116.05 L479.78,115.90 L479.78,115.75 L479.78,115.60 L479.78,115.45 L479.78,115.30 L479.78,115.16 L479.78,115.01 L479.78,114.86 L479.78,114.71 L479.78,114.56 L479.78,114.41 L479.78,114.26 L479.78,114.11 L479.78,113.96 L479.78,113.81 L479.78,113.66 L479.78,113.51 L479.78,113.36 L479.78,113.21 L479.78,113.07 L479.78,112.92 L479.78,112.77 L479.78,112.62 L479.78,112.47 L479.78,112.32 L479.78,112.17 L479.78,112.02 L479.78,111.87 L479.78,111.72 L479.78,111.57 L479.78,111.42 L479.78,111.27 L479.78,111.12 L479.78,110.97 L479.78,110.83 L479.78,110.68 L479.78,110.53 L479.78,110.38 L479.78,110.23 L479.78,110.08 L479.78,109.93 L479.78,109.78 L479.78,109.63 L479.78,109.48 L479.78,109.33 L479.78,109.18 L479.78,109.03 L479.78,108.88 L479.78,108.74 L479.78,108.59 L479.78,108.44 L479.78,108.29 L479.78,108.14 L479.78,107.99 L479.78,107.84 L479.78,107.69 L479.78,107.54 L479.78,107.39 L479.78,107.24 L479.78,107.09 L479.78,106.94 L479.78,106.79 L479.78,106.65 L479.78,106.50 L479.78,106.35 L479.78,106.20 L479.78,106.05 L479.78,105.90 L479.78,105.75 L479.78,105.60 L479.78,105.45 L479.78,105.30 L479.78,105.15 L479.78,105.00 L479.78,104.85 L479.78,104.70 L479.78,104.56 L479.78,104.41 L479.78,104.26 L479.78,104.11 L479.78,103.96 L479.78,103.81 L479.78,103.66 L479.78,103.51 L479.78,103.36 L479.78,103.21 L479.78,103.06 L479.78,102.91 L479.78,102.76 L479.78,102.61 L479.78,102.46 L479.78,102.32 L479.78,102.17 L479.78,102.02 L479.78,101.87 L479.78,101.72 L479.78,101.57 L479.78,101.42 L479.78,101.27 L479.78,101.12 L479.78,100.97 L479.78,100.82 L479.78,100.67 L479.78,100.52 L479.78,100.37 L479.78,100.23 L479.78,100.08 L479.78,99.93 L479.78,99.78 L479.78,99.63 L479.78,99.48 L479.78,99.33 L479.78,99.18 L479.78,99.03 L479.78,98.88 L479.78,98.73 L479.78,98.58 L479.78,98.43 L479.78,98.28 L479.78,98.13 L479.78,97.99 L479.78,97.84 L479.78,97.69 L479.78,97.54 L479.78,97.39 L479.78,97.24 L479.78,97.09 L479.78,96.94 L479.78,96.79 L479.78,96.64 L479.78,96.49 L479.78,96.34 L479.78,96.19 L479.78,96.04 L479.78,95.90 L479.78,95.75 L479.78,95.60 L479.78,95.45 L479.78,95.30 L479.79,95.15 L479.79,95.00 L479.79,94.85 L479.79,94.70 L479.79,94.55 L479.79,94.40 L479.79,94.25 L479.79,94.10 L479.79,93.95 L479.79,93.80 L479.79,93.66 L479.79,93.51 L479.79,93.36 L479.79,93.21 L479.79,93.06 L479.79,92.91 L479.79,92.76 L479.79,92.61 L479.79,92.46 L479.79,92.31 L479.80,92.16 L479.80,92.01 L479.80,91.86 L479.80,91.71 L479.80,91.56 L479.80,91.41 L479.80,91.27 L479.80,91.12 L479.80,90.97 L479.80,90.82 L479.80,90.67 L479.80,90.52 L479.81,90.37 L479.81,90.22 L479.81,90.07 L479.81,89.92 L479.81,89.77 L479.81,89.62 L479.81,89.47 L479.81,89.32 L479.82,89.17 L479.82,89.02 L479.82,88.87 L479.82,88.73 L479.82,88.58 L479.82,88.43 L479.83,88.28 L479.83,88.13 L479.83,87.98 L479.83,87.83 L479.83,87.68 L479.84,87.53 L479.84,87.38 L479.84,87.23 L479.84,87.08 L479.84,86.93 L479.85,86.78 L479.85,86.63 L479.85,86.48 L479.85,86.33 L479.86,86.18 L479.86,86.03 L479.86,85.88 L479.87,85.73 L479.87,85.59 L479.87,85.44 L479.88,85.29 L479.88,85.14 L479.88,84.99 L479.89,84.84 L479.89,84.69 L479.90,84.54 L479.90,84.39 L479.91,84.24 L479.91,84.09 L479.92,83.94 L479.92,83.79 L479.93,83.64 L479.93,83.49 L479.94,83.34 L479.94,83.19 L479.95,83.04 L479.95,82.89 L479.96,82.74 L479.97,82.59 L479.97,82.44 L479.98,82.29 L479.99,82.14 L480.00,81.99 L480.00,81.84 L480.01,81.69 L480.02,81.54 L480.03,81.39 L480.04,81.24 L480.05,81.09 L480.06,80.94 L480.07,80.79 L480.08,80.64 L480.09,80.49 L480.10,80.34 L480.11,80.19 L480.13,80.04 L480.14,79.89 L480.15,79.73 L480.17,79.58 L480.18,79.43 L480.19,79.28 L480.21,79.13 L480.22,78.98 L480.24,78.83 L480.26,78.68 L480.27,78.53 L480.29,78.38 L480.31,78.23 L480.33,78.07 L480.35,77.92 L480.37,77.77 L480.39,77.62 L480.41,77.47 L480.44,77.32 L480.46,77.17 L480.48,77.01 L480.51,76.86 L480.54,76.71 L480.56,76.56 L480.59,76.41 L480.62,76.25 L480.65,76.10 L480.68,75.95 L480.72,75.80 L480.75,75.64 L480.78,75.49 L480.82,75.34 L480.86,75.19 L480.90,75.03 L480.94,74.88 L480.98,74.73 L481.02,74.57 L481.06,74.42 L481.11,74.27 L481.16,74.11 L481.21,73.96 L481.26,73.80 L481.31,73.65 L481.37,73.49 L481.42,73.34 L481.48,73.18 L481.54,73.03 L481.60,72.87 L481.67,72.72 L481.74,72.56 L481.81,72.40 L481.88,72.25 L481.95,72.09 L482.03,71.93 L482.11,71.78 L482.19,71.62 L482.28,71.46 L482.37,71.30 L482.46,71.15 L482.55,70.99 L482.65,70.83 L482.75,70.67 L482.86,70.51 L482.96,70.35 L483.08,70.19 L483.19,70.03 L483.31,69.87 L483.43,69.70 L483.56,69.54 L483.69,69.38 L483.83,69.22 L483.97,69.05 L484.12,68.89 L484.27,68.73 L484.43,68.56 L484.59,68.40 L484.75,68.23 L484.93,68.06 L485.10,67.90 L485.29,67.73 L485.48,67.56 L485.67,67.39 L485.88,67.22 L486.09,67.05 L486.30,66.88 L486.52,66.71 L486.75,66.54 L486.99,66.36 L487.24,66.19 L487.49,66.01 L487.75,65.84 L488.02,65.66 L488.30,65.48 L488.59,65.31 L488.88,65.13 L489.19,64.95 L489.50,64.77 L489.82,64.58 L490.16,64.40 L490.50,64.22 L490.85,64.03 L491.22,63.84 L491.59,63.66 L491.98,63.47 L492.38,63.28 L492.79,63.09 L493.21,62.90 L493.65,62.70 L494.09,62.51 L494.55,62.31 L495.02,62.11 L495.51,61.91 L496.01,61.71 L496.52,61.51 L497.05,61.31 L497.59,61.10 L498.15,60.89 L498.72,60.69 L499.30,60.48 L499.91,60.26 L500.52,60.05 L501.16,59.83 L501.80,59.62 L502.47,59.40 L503.15,59.18 L503.85,58.96 L504.57,58.73 L505.30,58.50 L506.05,58.28 L506.82,58.05 L507.60,57.81 L508.41,57.58 L509.23,57.34 L510.07,57.10 L510.93,56.86 L511.80,56.62 L512.70,56.37 L513.62,56.13 L514.55,55.88 L515.50,55.62 L516.48,55.37 L517.47,55.11 L518.48,54.85 L519.51,54.59 L520.56,54.33 L521.63,54.06 L522.72,53.79 L523.83,53.52 L524.96,53.25 L526.10,52.97 L527.27,52.69 L528.46,52.41 L529.66,52.13 L530.89,51.84 L532.13,51.55 L533.40,51.26 L534.68,50.97 L535.98,50.67 L537.30,50.37 L538.64,50.07 L540.00,49.77" fill="none" stroke="#0000ff" stroke-width="3.1" stroke-linejoin="round" stroke-linecap="butt" shape-rendering="crispEdges"/>
<path d="M481.21,73.96 L481.26,73.80 L481.31,73.65 L481.37,73.49 L481.42,73.34 L481.48,73.18 L481.54,73.03 L481.60,72.87 L481.67,72.72 L481.74,72.56 L481.81,72.40 L481.88,72.25 L481.95,72.09 L482.03,71.93 L482.11,71.78 L482.19,71.62 L482.28,71.46 L482.37,71.30 L482.46,71.15 L482.55,70.99 L482.65,70.83 L482.75,70.67 L482.86,70.51 L482.96,70.35 L483.08,70.19 L483.19,70.03 L483.31,69.87 L483.43,69.70 L483.56,69.54 L483.69,69.38 L483.83,69.22 L483.97,69.05 L484.12,68.89 L484.27,68.73 L484.43,68.56 L484.59,68.40 L484.75,68.23 L484.93,68.06 L485.10,67.90 L485.29,67.73 L485.48,67.56 L485.67,67.39 L485.88,67.22 L486.09,67.05 L486.30,66.88 L486.52,66.71 L486.75,66.54 L486.99,66.36 L487.24,66.19 L487.49,66.01 L487.75,65.84 L488.02,65.66 L488.30,65.48 L488.59,65.31 L488.88,65.13 L489.19,64.95 L489.50,64.77 L489.82,64.58 L490.16,64.40 L490.50,64.22 L490.85,64.03 L491.22,63.84 L491.59,63.66 L491.98,63.47 L492.38,63.28 L492.79,63.09 L493.21,62.90 L493.65,62.70 L494.09,62.51 L494.55,62.31 L495.02,62.11 L495.51,61.91 L496.01,61.71 L496.52,61.51 L497.05,61.31 L497.59,61.10 L498.15,60.89 L498.72,60.69 L499.30,60.48 L499.91,60.26 L500.52,60.05 L501.16,59.83 L501.80,59.62 L502.47,59.40 L503.15,59.18 L503.85,58.96 L504.57,58.73 L505.30,58.50 L506.05,58.28 L506.82,58.05 L507.60,57.81 L508.41,57.58 L509.23,57.34 L510.07,57.10 L510.93,56.86 L511.80,56.62 L512.70,56.37 L513.62,56.13 L514.55,55.88 L515.50,55.62 L516.48,55.37 L517.47,55.11 L518.48,54.85 L519.51,54.59 L520.56,54.33 L521.63,54.06 L522.72,53.79 L523.83,53.52 L524.96,53.25 L526.10,52.97 L527.27,52.69 L528.46,52.41 L529.66,52.13 L530.89,51.84 L532.13,51.55 L533.40,51.26 L534.68,50.97 L535.98,50.67 L537.30,50.37 L538.64,50.07 L540.00,49.77" fill="none" stroke="#0000ff" stroke-width="3.8" stroke-linejoin="round" stroke-linecap="butt" shape-rendering="crispEdges"/>
</g>
<text x="29.82" y="17.05" font-size="15.45" font-style="normal" fill="#808080" stroke="#808080" stroke-width="0.35">1</text>
<text x="37.72" y="17.10" font-size="15.71" font-style="normal" fill="#808080" stroke="#808080" stroke-width="0.35">0</text>
<text x="44.47" y="14.25" font-size="15.50" font-style="normal" fill="#808080" stroke="#808080" stroke-width="0.35">−</text>
<text x="52.12" y="12.55" font-size="13.94" font-style="normal" fill="#808080" stroke="#808080" stroke-width="0.35">1</text>
<text x="59.03" y="12.51" font-size="13.84" font-style="normal" fill="#808080" stroke="#808080" stroke-width="0.35">3</text>
<text x="29.82" y="62.44" font-size="15.45" font-style="normal" fill="#808080" stroke="#808080" stroke-width="0.35">1</text>
<text x="37.72" y="62.49" font-size="15.71" font-style="normal" fill="#808080" stroke="#808080" stroke-width="0.35">0</text>
<text x="44.47" y="59.64" font-size="15.50" font-style="normal" fill="#808080" stroke="#808080" stroke-width="0.35">−</text>
<text x="52.12" y="57.94" font-size="13.94" font-style="normal" fill="#808080" stroke="#808080" stroke-width="0.35">1</text>
<text x="59.00" y="57.90" font-size="13.84" font-style="normal" fill="#808080" stroke="#808080" stroke-width="0.35">6</text>
<text x="29.82" y="107.83" font-size="15.45" font-style="normal" fill="#808080" stroke="#808080" stroke-width="0.35">1</text>
<text x="37.72" y="107.88" font-size="15.71" font-style="normal" fill="#808080" stroke="#808080" stroke-width="0.35">0</text>
<text x="44.47" y="105.03" font-size="15.50" font-style="normal" fill="#808080" stroke="#808080" stroke-width="0.35">−</text>
<text x="52.12" y="103.33" font-size="13.94" font-style="normal" fill="#808080" stroke="#808080" stroke-width="0.35">1</text>
<text x="59.15" y="103.29" font-size="13.84" font-style="normal" fill="#808080" stroke="#808080" stroke-width="0.35">9</text>
<text x="29.82" y="153.22" font-size="15.45" font-style="normal" fill="#808080" stroke="#808080" stroke-width="0.35">1</text>
<text x="37.72" y="153.27" font-size="15.71" font-style="normal" fill="#808080" stroke="#808080" stroke-width="0.35">0</text>
<text x="44.47" y="150.42" font-size="15.50" font-style="normal" fill="#808080" stroke="#808080" stroke-width="0.35">−</text>
<text x="52.40" y="148.72" font-size="13.89" font-style="normal" fill="#808080" stroke="#808080" stroke-width="0.35">2</text>
<text x="59.12" y="148.82" font-size="14.05" font-style="normal" fill="#808080" stroke="#808080" stroke-width="0.35">2</text>
<text x="29.82" y="198.61" font-size="15.45" font-style="normal" fill="#808080" stroke="#808080" stroke-width="0.35">1</text>
<text x="37.72" y="198.66" font-size="15.71" font-style="normal" fill="#808080" stroke="#808080" stroke-width="0.35">0</text>
<text x="44.47" y="195.81" font-size="15.50" font-style="normal" fill="#808080" stroke="#808080" stroke-width="0.35">−</text>
<text x="52.40" y="194.11" font-size="13.89" font-style="normal" fill="#808080" stroke="#808080" stroke-width="0.35">2</text>
<text x="58.92" y="194.07" font-size="13.99" font-style="normal" fill="#808080" stroke="#808080" stroke-width="0.35">5</text>
<text x="29.82" y="244.00" font-size="15.45" font-style="normal" fill="#808080" stroke="#808080" stroke-width="0.35">1</text>
<text x="37.72" y="244.05" font-size="15.71" font-style="normal" fill="#808080" stroke="#808080" stroke-width="0.35">0</text>
<text x="44.47" y="241.20" font-size="15.50" font-style="normal" fill="#808080" stroke="#808080" stroke-width="0.35">−</text>
<text x="52.40" y="239.50" font-size="13.89" font-style="normal" fill="#808080" stroke="#808080" stroke-width="0.35">2</text>
<text x="59.10" y="239.47" font-size="13.78" font-style="normal" fill="#808080" stroke="#808080" stroke-width="0.35">8</text>
<text x="29.82" y="289.39" font-size="15.45" font-style="normal" fill="#808080" stroke="#808080" stroke-width="0.35">1</text>
<text x="37.72" y="289.44" font-size="15.71" font-style="normal" fill="#808080" stroke="#808080" stroke-width="0.35">0</text>
<text x="44.47" y="286.59" font-size="15.50" font-style="normal" fill="#808080" stroke="#808080" stroke-width="0.35">−</text>
<text x="52.32" y="284.76" font-size="13.69" font-style="normal" fill="#808080" stroke="#808080" stroke-width="0.35">3</text>
<text x="58.83" y="284.99" font-size="14.09" font-style="normal" fill="#808080" stroke="#808080" stroke-width="0.35">1</text>
<text x="112.72" y="320.15" font-size="15.45" font-style="normal" fill="#808080" stroke="#808080" stroke-width="0.35">1</text>
<text x="120.72" y="320.20" font-size="15.71" font-style="normal" fill="#808080" stroke="#808080" stroke-width="0.35">0</text>
<text x="128.01" y="316.98" font-size="15.00" font-style="normal" fill="#808080" stroke="#808080" stroke-width="0.35">−</text>
<text x="135.83" y="314.82" font-size="13.25" font-style="normal" fill="#808080" stroke="#808080" stroke-width="0.35">3</text>
<text x="256.32" y="320.15" font-size="15.45" font-style="normal" fill="#808080" stroke="#808080" stroke-width="0.35">1</text>
<text x="264.32" y="320.20" font-size="15.71" font-style="normal" fill="#808080" stroke="#808080" stroke-width="0.35">0</text>
<text x="271.61" y="316.98" font-size="15.00" font-style="normal" fill="#808080" stroke="#808080" stroke-width="0.35">−</text>
<text x="279.85" y="314.85" font-size="13.29" font-style="normal" fill="#808080" stroke="#808080" stroke-width="0.35">2</text>
<text x="399.92" y="320.15" font-size="15.45" font-style="normal" fill="#808080" stroke="#808080" stroke-width="0.35">1</text>
<text x="407.92" y="320.20" font-size="15.71" font-style="normal" fill="#808080" stroke="#808080" stroke-width="0.35">0</text>
<text x="415.21" y="316.98" font-size="15.00" font-style="normal" fill="#808080" stroke="#808080" stroke-width="0.35">−</text>
<text x="423.48" y="314.85" font-size="13.33" font-style="normal" fill="#808080" stroke="#808080" stroke-width="0.35">1</text>
<text transform="translate(89.15,280.01) scale(1.548,1)" x="-3.10" y="0" font-size="14.29" font-style="italic" fill="#880088" stroke="#880088" stroke-width="0.7">γ</text>
<text transform="translate(96.20,280.01) scale(1.530,1)" x="-3.10" y="0" font-size="14.29" font-style="italic" fill="#880088" stroke="#880088" stroke-width="0.7">γ</text>
<text x="170.45" y="169.41" font-size="13.93" font-style="italic" fill="#ff8000" stroke="#ff8000" stroke-width="0.7">e</text>
<text x="176.85" y="164.35" font-size="13.10" font-style="normal" fill="#ff8000" stroke="#ff8000" stroke-width="0.7">+</text>
<text x="187.25" y="169.41" font-size="13.93" font-style="italic" fill="#ff8000" stroke="#ff8000" stroke-width="0.7">e</text>
<text x="192.81" y="164.78" font-size="15.00" font-style="normal" fill="#ff8000" stroke="#ff8000" stroke-width="0.7">−</text>
<text x="322.35" y="136.01" font-size="13.93" font-style="italic" fill="#ff0000" stroke="#ff0000" stroke-width="0.7">e</text>
<text x="328.68" y="131.29" font-size="13.52" font-style="normal" fill="#ff0000" stroke="#ff0000" stroke-width="0.7">+</text>
<text x="339.10" y="136.01" font-size="13.93" font-style="italic" fill="#ff0000" stroke="#ff0000" stroke-width="0.7">e</text>
<text x="344.96" y="131.78" font-size="15.00" font-style="normal" fill="#ff0000" stroke="#ff0000" stroke-width="0.7">−</text>
<text transform="translate(358.35,136.08) scale(1.358,1)" x="-3.13" y="0" font-size="14.44" font-style="italic" fill="#ff0000" stroke="#ff0000" stroke-width="0.7">γ</text>
<text transform="translate(428.10,109.16) scale(1.295,1)" x="-3.27" y="0" font-size="13.97" font-style="italic" fill="#00a800" stroke="#00a800" stroke-width="0.7">μ</text>
<text x="432.44" y="105.27" font-size="13.31" font-style="normal" fill="#00a800" stroke="#00a800" stroke-width="0.7">+</text>
<text transform="translate(444.75,109.16) scale(1.219,1)" x="-3.27" y="0" font-size="13.97" font-style="italic" fill="#00a800" stroke="#00a800" stroke-width="0.7">μ</text>
<text x="448.93" y="105.12" font-size="13.00" font-style="normal" fill="#00a800" stroke="#00a800" stroke-width="0.7">−</text>
<text x="449.64" y="70.12" font-size="13.65" font-style="italic" fill="#996633" stroke="#996633" stroke-width="0.7">π</text>
<text x="456.60" y="65.01" font-size="14.08" font-style="italic" fill="#996633" stroke="#996633" stroke-width="0.25">0</text>
<text x="465.64" y="70.12" font-size="13.65" font-style="italic" fill="#996633" stroke="#996633" stroke-width="0.7">π</text>
<text x="473.65" y="65.01" font-size="14.08" font-style="italic" fill="#996633" stroke="#996633" stroke-width="0.25">0</text>
<text x="493.33" y="50.10" font-size="15.36" font-style="italic" fill="#0000ff" stroke="#0000ff" stroke-width="0.7">π</text>
<text x="501.21" y="45.73" font-size="12.88" font-style="normal" fill="#0000ff" stroke="#0000ff" stroke-width="0.7">+</text>
<text x="509.38" y="50.10" font-size="15.36" font-style="italic" fill="#0000ff" stroke="#0000ff" stroke-width="0.7">π</text>
<text x="517.54" y="46.58" font-size="13.50" font-style="normal" fill="#0000ff" stroke="#0000ff" stroke-width="0.7">−</text>
<text transform="translate(234.00,70.30) scale(1.297,1)" x="-3.24" y="0" font-size="15.79" font-style="italic" fill="#808080" stroke="#808080" stroke-width="0.35">τ</text>
<text x="238.70" y="74.31" font-size="14.75" font-style="italic" fill="#808080" stroke="#808080" stroke-width="0.35">U</text>
<text x="250.11" y="66.23" font-size="12.00" font-style="normal" fill="#808080" stroke="#808080" stroke-width="0.35">−</text>
<text x="257.62" y="63.85" font-size="12.42" font-style="normal" fill="#808080" stroke="#808080" stroke-width="0.35">1</text>
<text x="274.16" y="350.35" font-size="14.64" font-style="italic" fill="#808080" stroke="#808080" stroke-width="0.6">m</text>
<text x="283.26" y="351.61" font-size="11.91" font-style="italic" fill="#808080" stroke="#808080" stroke-width="0.7">ψ</text>
<text x="297.11" y="350.26" font-size="15.59" font-style="normal" fill="#808080" stroke="#808080" stroke-width="0.35">[</text>
<text x="302.02" y="350.21" font-size="14.44" font-style="normal" fill="#808080" stroke="#808080" stroke-width="0.35">G</text>
<text x="313.26" y="350.23" font-size="12.68" font-style="normal" fill="#808080" stroke="#808080" stroke-width="0.35">e</text>
<text x="319.97" y="350.13" font-size="14.48" font-style="normal" fill="#808080" stroke="#808080" stroke-width="0.35">V</text>
<text x="331.60" y="350.26" font-size="15.59" font-style="normal" fill="#808080" stroke="#808080" stroke-width="0.35">]</text>
<g transform="rotate(-90)"><text x="-176.99" y="16.35" font-size="15.27" font-style="normal" fill="#808080" stroke="#808080" stroke-width="0.35">Γ</text><text x="-163.72" y="17.08" font-size="15.47" font-style="normal" fill="#808080" stroke="#808080" stroke-width="0.35">[</text><text x="-158.44" y="16.82" font-size="12.89" font-style="normal" fill="#808080" stroke="#808080" stroke-width="0.35">s</text><text x="-151.29" y="11.38" font-size="12.00" font-style="normal" fill="#808080" stroke="#808080" stroke-width="0.35">−</text><text x="-146.02" y="11.15" font-size="12.57" font-style="normal" fill="#808080" stroke="#808080" stroke-width="0.35">1</text><text x="-136.73" y="17.08" font-size="15.47" font-style="normal" fill="#808080" stroke="#808080" stroke-width="0.35">]</text></g>
</svg>
</body></html>
